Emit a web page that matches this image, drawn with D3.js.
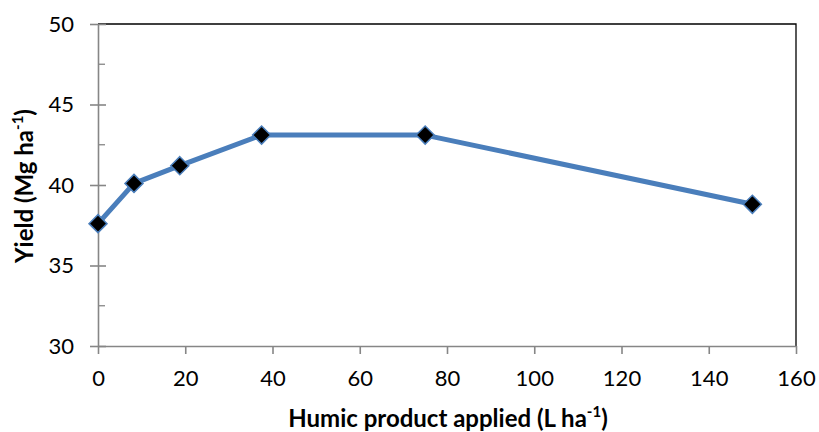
<!DOCTYPE html>
<html>
<head>
<meta charset="utf-8">
<script src="https://cdn.jsdelivr.net/npm/d3@7"></script>
<style>
  body { margin: 0; background: #fff; }
  text { font-family: Lato, "Open Sans", sans-serif; }
</style>
</head>
<body>
<div id="chart"></div>
<script>
// humic product rate (L/ha) and yield (Mg/ha)
const rates = [0, 8.25, 18.75, 37.5, 75, 150];
const yields = [37.6, 40.1, 41.2, 43.1, 43.1, 38.8];
const xTicks = [0, 20, 40, 60, 80, 100, 120, 140, 160];
const yTicks = [30, 35, 40, 45, 50];
const yMinor = [32.5, 37.5, 42.5, 47.5];

const width = 819, height = 432;
const margin = { left: 98, right: 23, top: 24, bottom: 86 };

const svg = d3.select("#chart").append("svg")
  .attr("width", width)
  .attr("height", height);

const x = d3.scaleLinear().domain([0, 160]).range([margin.left, width - margin.right]);
const y = d3.scaleLinear().domain([30, 50]).range([height - margin.bottom, margin.top]);

// plot frame: top and right in black
svg.append("path")
  .attr("d", `M${x(0)},${y(50)}H${x(160)}V${y(30)}`)
  .attr("fill", "none")
  .attr("stroke", "#000")
  .attr("stroke-width", 1.3);

// y axis
const yAxis = svg.append("g")
  .attr("transform", `translate(${x(0)},0)`)
  .call(d3.axisLeft(y).tickValues(yTicks).tickSizeInner(8).tickSizeOuter(0).tickPadding(9));
yAxis.selectAll(".tick line").attr("x2", -8).attr("x1", 8);
yAxis.selectAll(".tick text").attr("font-size", 22).attr("fill", "#000");
yAxis.selectAll(".tick text").attr("x", -24);
svg.append("g").selectAll("line").data(yMinor).enter().append("line")
  .attr("x1", x(0)).attr("x2", x(0) + 7)
  .attr("y1", d => y(d)).attr("y2", d => y(d))
  .attr("stroke", "#868686").attr("stroke-width", 1.3);

// x axis
const xAxis = svg.append("g")
  .attr("transform", `translate(0,${y(30)})`)
  .call(d3.axisBottom(x).tickValues(xTicks).tickSizeInner(8).tickSizeOuter(0).tickPadding(16));
xAxis.selectAll(".tick text").attr("font-size", 22).attr("fill", "#000");

svg.selectAll(".domain, .tick line").attr("stroke", "#868686").attr("stroke-width", 1.6);

// line
const line = d3.line().x((d, i) => x(rates[i])).y(d => y(d));
svg.append("path")
  .datum(yields)
  .attr("d", line)
  .attr("fill", "none")
  .attr("stroke", "#4a7ebb")
  .attr("stroke-width", 5)
  .attr("stroke-linejoin", "round");

// diamond markers
svg.selectAll(".pt").data(yields).enter().append("path")
  .attr("class", "pt")
  .attr("transform", (d, i) => `translate(${x(rates[i])},${y(d)})`)
  .attr("d", "M0,-9L9,0L0,9L-9,0Z")
  .attr("fill", "#000")
  .attr("stroke", "#4a7ebb")
  .attr("stroke-width", 1.5);

// axis titles
const xt = svg.append("text")
  .attr("x", 448).attr("y", 427)
  .attr("text-anchor", "middle")
  .attr("font-size", 24).attr("font-weight", "bold");
xt.append("tspan").text("Humic product applied (L ha");
xt.append("tspan").attr("font-size", 15).attr("dy", -10).text("-1");
xt.append("tspan").attr("dy", 10).text(")");

const yt = svg.append("text")
  .attr("transform", "translate(33,186) rotate(-90)")
  .attr("text-anchor", "middle")
  .attr("font-size", 24).attr("font-weight", "bold");
yt.append("tspan").text("Yield (Mg ha");
yt.append("tspan").attr("font-size", 15).attr("dy", -10).text("-1");
yt.append("tspan").attr("dy", 10).text(")");
</script>
</body>
</html>
